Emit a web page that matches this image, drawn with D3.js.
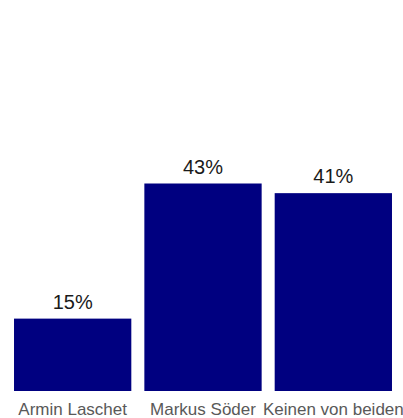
<!DOCTYPE html>
<html>
<head>
<meta charset="utf-8">
<script src="https://cdn.jsdelivr.net/npm/d3@7"></script>
<style>
  html, body { margin: 0; padding: 0; background: #fff; }
  svg { display: block; }
</style>
</head>
<body>
<svg id="chart" width="403" height="418"></svg>
<script>
// Who should be the Union's candidate for chancellor?
const categories = ["Armin Laschet", "Markus Söder", "Keinen von beiden"];
const values = [15, 43, 41];
const valueLabels = ["15%", "43%", "41%"];

const svg = d3.select("#chart");

const x = d3.scaleBand()
  .domain(categories)
  .range([7.5, 398.5])
  .paddingInner(0.1)
  .paddingOuter(0.05);

const y = d3.scaleLinear()
  .domain([0, 43])
  .range([391, 183.5]);

svg.selectAll("rect.bar")
  .data(values)
  .join("rect")
  .attr("class", "bar")
  .attr("x", (d, i) => x(categories[i]))
  .attr("width", x.bandwidth())
  .attr("y", d => y(d))
  .attr("height", d => y(0) - y(d))
  .attr("fill", "#000080");

svg.selectAll("text.value")
  .data(values)
  .join("text")
  .attr("class", "value")
  .attr("x", (d, i) => x(categories[i]) + x.bandwidth() / 2)
  .attr("y", d => y(d) - 10)
  .attr("text-anchor", "middle")
  .attr("font-family", "Liberation Sans, Arial, sans-serif")
  .attr("font-size", 20)
  .attr("fill", "#1a1a1a")
  .text((d, i) => valueLabels[i]);

// Category axis labels without a domain line or ticks
const xAxis = d3.axisBottom(x).tickSize(0).tickPadding(0);
const gx = svg.append("g")
  .attr("transform", `translate(0, ${y(0)})`)
  .call(xAxis);
gx.select(".domain").remove();
gx.selectAll("text")
  .attr("dy", null)
  .attr("y", 24)
  .attr("font-family", "Liberation Sans, Arial, sans-serif")
  .attr("font-size", 17)
  .attr("fill", "#595959");
</script>
</body>
</html>
